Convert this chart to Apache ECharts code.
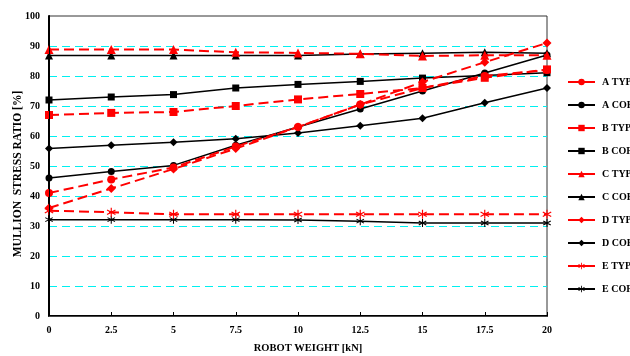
<!DOCTYPE html>
<html><head><meta charset="utf-8">
<script src="https://cdn.jsdelivr.net/npm/echarts@6/dist/echarts.min.js"></script>
<style>html,body{margin:0;padding:0;background:#fff}#c{width:630px;height:356px}</style>
</head><body><div id="c"></div>
<script>
var weights = [0, 2.5, 5, 7.5, 10, 12.5, 15, 17.5, 20];
var aTyp = [41, 45.5, 49.5, 56.5, 63, 70.5, 76, 80, 82];
var aCor = [46, 48.2, 50.2, 56.9, 63, 69, 75, 81, 87];
var bTyp = [67, 67.7, 68, 70, 72.2, 74, 76, 79.4, 82.2];
var bCor = [72, 73, 73.8, 76, 77.2, 78.2, 79.3, 80.2, 81.1];
var cTyp = [88.8, 88.8, 88.8, 87.9, 87.7, 87.4, 86.7, 86.9, 86.9];
var cCor = [86.8, 86.8, 86.8, 86.8, 86.8, 87.3, 87.6, 87.9, 87.6];
var dTyp = [36, 42.5, 49, 55.8, 63, 70.5, 78, 84.6, 91];
var dCor = [55.8, 56.9, 57.9, 59.1, 61, 63.4, 65.9, 71.1, 76];
var eTyp = [35.1, 34.6, 33.9, 33.9, 33.9, 33.9, 33.9, 33.9, 33.9];
var eCor = [32.1, 32.1, 32.1, 32.1, 32, 31.6, 31, 31, 31];
var names = ['A TYP', 'A CORNER', 'B TYP', 'B CORNER', 'C TYP', 'C CORNER', 'D TYP', 'D CORNER', 'E TYP', 'E CORNER'];

var star = 'path://M8.8,0 L8.8,20 L11.2,20 L11.2,0 Z M0.74,6.04 L18.06,16.04 L19.26,13.96 L1.94,3.96 Z M1.94,16.04 L19.26,6.04 L18.06,3.96 L0.74,13.96 Z';
var FONT = '"Liberation Serif", "Times New Roman", serif';

function pairs(vals) { return weights.map(function (w, i) { return [w, vals[i]]; }); }
function mk(name, vals, typ, symbol, size) {
  var col = typ ? '#ff0000' : '#000000';
  return {
    name: name, type: 'line', data: pairs(vals),
    symbol: symbol, symbolSize: size,
    lineStyle: { color: col, width: typ ? 2 : 1.5, type: typ ? [10, 5] : 'solid' },
    itemStyle: { color: col, borderWidth: 0 },
    emphasis: { disabled: true }, animation: false, z: typ ? 3 : 2
  };
}
var series = [
  mk(names[0], aTyp, true, 'circle', 8),
  mk(names[1], aCor, false, 'circle', 7),
  mk(names[2], bTyp, true, 'rect', 8),
  mk(names[3], bCor, false, 'rect', 7),
  mk(names[4], cTyp, true, 'triangle', 9),
  mk(names[5], cCor, false, 'triangle', 8),
  mk(names[6], dTyp, true, 'diamond', 9),
  mk(names[7], dCor, false, 'diamond', 8),
  mk(names[8], eTyp, true, star, 9),
  mk(names[9], eCor, false, star, 8)
];

var chart = echarts.init(document.getElementById('c'), null, { renderer: 'canvas' });
chart.setOption({
  animation: false,
  backgroundColor: '#fff',
  textStyle: { fontFamily: FONT },
  grid: { left: 49, right: 83, top: 16, bottom: 40, containLabel: false, outerBoundsMode: 'none',
          show: true, borderColor: '#333', borderWidth: 1 },
  legend: {
    orient: 'vertical', left: 567, top: 77, padding: 0, itemWidth: 27, itemHeight: 8, itemGap: 13,
    data: names,
    textStyle: { fontFamily: FONT, fontWeight: 'bold', fontSize: 10, color: '#000', padding: [0, 0, 0, 2] },
    lineStyle: { type: 'solid', width: 2 },
    selectedMode: false
  },
  xAxis: [{
    type: 'value', min: 0, max: 20, interval: 2.5,
    name: 'ROBOT WEIGHT [kN]', nameLocation: 'middle', nameGap: 27, nameMoveOverlap: false,
    nameTextStyle: { fontFamily: FONT, fontWeight: 'bold', fontSize: 10.5, color: '#000', padding: [0, 0, 0, 20] },
    axisLine: { show: true, lineStyle: { color: '#000', width: 2 } },
    axisTick: { show: true, inside: true, length: 4, lineStyle: { color: '#000' } },
    axisLabel: { fontFamily: FONT, fontWeight: 'bold', fontSize: 10, color: '#000', margin: 9 },
    splitLine: { show: false }, z: 5
  }, {
    type: 'value', min: 0, max: 20, position: 'top',
    axisLine: { show: true, lineStyle: { color: '#444', width: 1 } },
    axisTick: { show: false }, axisLabel: { show: false }, splitLine: { show: false }, z: 5
  }],
  yAxis: [{
    type: 'value', min: 0, max: 100, interval: 10,
    name: 'MULLION  STRESS RATIO [%]', nameLocation: 'middle', nameGap: 25, nameMoveOverlap: false,
    nameTextStyle: { fontFamily: FONT, fontWeight: 'bold', fontSize: 11.5, color: '#000', padding: [0, 16, 0, 0] },
    axisLine: { show: true, lineStyle: { color: '#000', width: 2 } },
    axisTick: { show: false },
    axisLabel: { fontFamily: FONT, fontWeight: 'bold', fontSize: 10, color: '#000', margin: 9 },
    splitLine: { show: true, showMinLine: false, showMaxLine: false,
                 lineStyle: { color: '#00f0f0', width: 1.2, type: [8, 5] } }
  }, {
    type: 'value', min: 0, max: 100, interval: 10, position: 'right',
    axisLine: { show: true, lineStyle: { color: '#000', width: 1 } },
    axisTick: { show: false }, axisLabel: { show: false }, splitLine: { show: false }, z: 5
  }],
  series: series
});
</script></body></html>
